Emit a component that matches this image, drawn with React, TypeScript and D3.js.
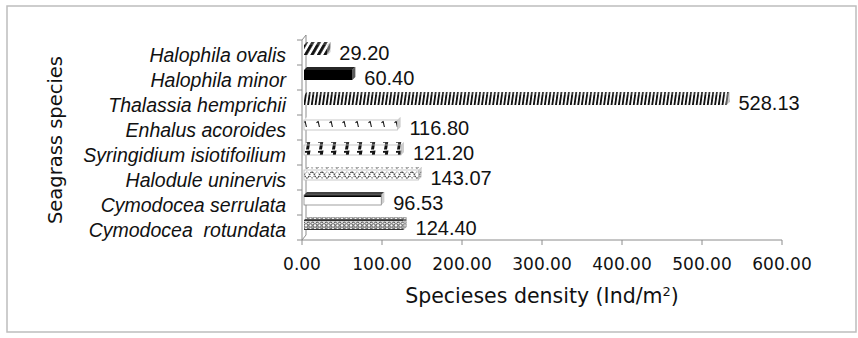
import React from "react";
import * as d3 from "d3";

const categories = [
  "Halophila ovalis",
  "Halophila minor",
  "Thalassia hemprichii",
  "Enhalus acoroides",
  "Syringidium isiotifoilium",
  "Halodule uninervis",
  "Cymodocea serrulata",
  "Cymodocea  rotundata",
];
const values = [29.2, 60.4, 528.13, 116.8, 121.2, 143.07, 96.53, 124.4];
const xTicks = [0, 100, 200, 300, 400, 500, 600];
const patternIds = ["p-ov", "p-min", "p-thal", "p-enh", "p-syr", "p-hal", "p-ser", "p-rot"];

const W = 858;
const H = 338;
const X0 = 302;
const X1 = 782;
const Y0 = 40;
const Y1 = 240;
const WALL = { dx: 4, dy: -5 };
const BAR = { dx: 3, dy: -3 };

export default function App() {
  const x = d3.scaleLinear().domain([0, 600]).range([X0, X1]);
  const y = d3.scaleBand<string>().domain(categories).range([Y0, Y1]).padding(0);
  const bw = y.bandwidth();
  const bh = bw * 0.4;

  return (
    <svg
      width={W}
      height={H}
      style={{ position: "absolute", left: 0, top: 0, background: "#fff" }}
      fontFamily="'Liberation Sans', Arial, sans-serif"
    >
      <defs>
        <pattern id="p-ov" patternUnits="userSpaceOnUse" width={6.5} height={10} x={X0} patternTransform="skewX(-30)">
          <rect width={6.5} height={10} fill="#fff" />
          <rect x={1} width={3.4} height={10} fill="#111" />
        </pattern>
        <pattern id="p-min" patternUnits="userSpaceOnUse" width={4} height={4}>
          <rect width={4} height={4} fill="#000" />
        </pattern>
        <pattern id="p-thal" patternUnits="userSpaceOnUse" width={3.7} height={10} patternTransform="skewX(-8)">
          <rect width={3.7} height={10} fill="#fff" />
          <rect width={1.9} height={10} fill="#111" />
        </pattern>
        <pattern id="p-enh" patternUnits="userSpaceOnUse" width={13} height={10} x={X0}>
          <rect width={13} height={10} fill="#fff" />
          <path d="M1.5,2.8 L3.6,1.3 M3.2,1.5 L4.4,7" stroke="#111" strokeWidth={1.1} fill="none" />
        </pattern>
        <pattern id="p-syr" patternUnits="userSpaceOnUse" width={13} height={10} x={X0}>
          <rect width={13} height={10} fill="#fff" />
          <path d="M3,1 L8.5,0.6 L7,9.5 L4,9.5 L5.2,2.8 L3,2.8 Z" fill="#111" />
        </pattern>
        <pattern id="p-hal" patternUnits="userSpaceOnUse" width={10} height={10} x={X0}>
          <rect width={10} height={10} fill="#fff" />
          <path d="M0,2 C2.5,2 2.5,8 5,8 C7.5,8 7.5,2 10,2" stroke="#222" strokeWidth={1.1} fill="none" strokeDasharray="1.6,0.8" />
          <path d="M0,8 C2.5,8 2.5,2 5,2 C7.5,2 7.5,8 10,8" stroke="#555" strokeWidth={0.9} fill="none" strokeDasharray="1.2,1" />
        </pattern>
        <pattern id="p-ser" patternUnits="userSpaceOnUse" width={4} height={4}>
          <rect width={4} height={4} fill="#fff" />
        </pattern>
        <pattern id="p-rot" patternUnits="userSpaceOnUse" width={4.5} height={10}>
          <rect width={4.5} height={10} fill="#fff" />
          <rect y={0} width={4.5} height={1.2} fill="#333" />
          <circle cx={2.25} cy={3.6} r={1.5} stroke="#222" strokeWidth={0.9} fill="none" />
          <circle cx={2.25} cy={7.2} r={1.5} stroke="#444" strokeWidth={0.9} fill="#bbb" />
          <rect y={9} width={4.5} height={1} fill="#333" />
        </pattern>
      </defs>

      {/* outer frame */}
      <rect x={7} y={6} width={849} height={326} fill="#fff" stroke="#bdbdbd" strokeWidth={1.5} />

      {/* left wall (category axis plane) and value axis */}
      <g stroke="#8c8c8c" strokeWidth={1} fill="none">
        <line x1={X0} y1={Y0} x2={X0} y2={Y1} />
        <line x1={X0 + WALL.dx} y1={Y0 + WALL.dy} x2={X0 + WALL.dx} y2={Y1 + WALL.dy} />
        <line x1={X0} y1={Y0} x2={X0 + WALL.dx} y2={Y0 + WALL.dy} />
        <line x1={X0} y1={Y1} x2={X0 + WALL.dx} y2={Y1 + WALL.dy} />
        {d3.range(categories.length + 1).map((i) => (
          <line key={i} x1={X0 - 5} x2={X0} y1={Y0 + i * bw} y2={Y0 + i * bw} />
        ))}
        <line x1={X0} y1={Y1} x2={X1} y2={Y1} />
        {xTicks.map((t) => (
          <line key={t} x1={x(t)} x2={x(t)} y1={Y1} y2={Y1 + 5} />
        ))}
      </g>

      {/* bars */}
      {categories.map((c, i) => {
        const v = values[i];
        const cy = (y(c) as number) + bw / 2;
        const bx0 = X0 + WALL.dx / 2;
        const bx1 = x(v) + WALL.dx / 2;
        const by0 = cy - bh / 2 + WALL.dy / 2;
        const by1 = by0 + bh;
        const pid = patternIds[i];
        const top = `M${bx0},${by0} L${bx0 + BAR.dx},${by0 + BAR.dy} L${bx1 + BAR.dx},${by0 + BAR.dy} L${bx1},${by0} Z`;
        const side = `M${bx1},${by0} L${bx1 + BAR.dx},${by0 + BAR.dy} L${bx1 + BAR.dx},${by1 + BAR.dy} L${bx1},${by1} Z`;
        const outlined = pid === "p-enh" || pid === "p-syr" || pid === "p-hal";
        return (
          <g key={c}>
            <path d={top} fill={pid === "p-ser" ? "#222" : `url(#${pid})`} opacity={0.85} />
            <path d={side} fill="#a6a6a6" />
            <path d={side} fill={`url(#${pid})`} opacity={0.45} />
            <rect x={bx0} y={by0} width={bx1 - bx0} height={bh} fill={`url(#${pid})`} />
            {outlined && (
              <rect x={bx0} y={by0} width={bx1 - bx0} height={bh} fill="none" stroke="#bbb" strokeWidth={0.8} />
            )}
            {pid === "p-ser" && (
              <>
                <rect x={bx0} y={by0} width={bx1 - bx0} height={2} fill="#000" />
                <rect x={bx0} y={by0} width={bx1 - bx0} height={bh} fill="none" stroke="#777" strokeWidth={0.7} />
              </>
            )}
            <text x={bx1 + BAR.dx + 9} y={cy} dy="0.36em" fontSize={20} fill="#111">
              {v.toFixed(2)}
            </text>
            <text
              x={286}
              y={cy + 2}
              dy="0.36em"
              textAnchor="end"
              fontSize={19.5}
              fontStyle="italic"
              fill="#111"
              style={{ whiteSpace: "pre" }}
            >
              {c}
            </text>
          </g>
        );
      })}

      {/* x tick labels */}
      {xTicks.map((t) => (
        <text
          key={t}
          x={x(t)}
          y={264}
          dy="0.36em"
          textAnchor="middle"
          fontSize={17}
          fontFamily="'DejaVu Sans', Verdana, sans-serif"
          fill="#111"
        >
          {t.toFixed(2)}
        </text>
      ))}

      {/* axis titles */}
      <text
        x={(X0 + X1) / 2}
        y={296}
        dy="0.36em"
        textAnchor="middle"
        fontSize={20.5}
        fontFamily="'DejaVu Sans', Verdana, sans-serif"
        fill="#111"
      >
        Specieses density (Ind/m
        <tspan fontSize={13} dy="-0.6em">2</tspan>
        <tspan dy="0.35em">)</tspan>
      </text>
      <text
        transform={`translate(55,${(Y0 + Y1) / 2}) rotate(-90)`}
        textAnchor="middle"
        dy="0.36em"
        fontSize={19.5}
        fontFamily="'DejaVu Sans', Verdana, sans-serif"
        fill="#111"
      >
        Seagrass species
      </text>
    </svg>
  );
}
